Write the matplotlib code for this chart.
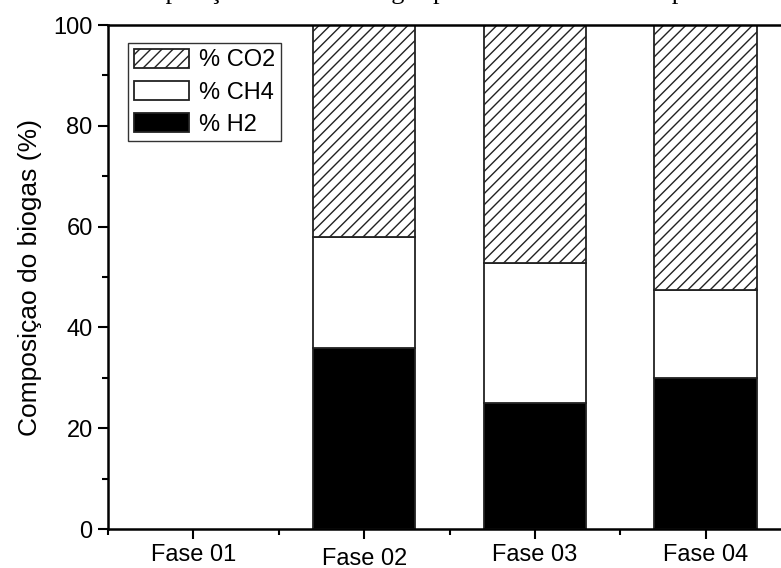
import numpy as np
import matplotlib
matplotlib.use("Agg")
import matplotlib.pyplot as plt
from matplotlib.ticker import MultipleLocator
from matplotlib.transforms import ScaledTranslation

# Biogas composition per phase (%); Fase 01 produced no gas
phases = ["Fase 01", "Fase 02", "Fase 03", "Fase 04"]
h2 = [np.nan, 35.9, 25.0, 30.0]
ch4 = [np.nan, 22.0, 27.7, 17.4]
co2 = [np.nan, 42.1, 47.3, 52.6]

plt.rcParams["font.family"] = ["Liberation Sans", "DejaVu Sans"]
plt.rcParams["hatch.linewidth"] = 1.0
plt.rcParams["hatch.color"] = "black"

fig = plt.figure(figsize=(7.81, 5.68), dpi=100)
W, H = 781, 568
left, right, top, bottom = 108, 791, 25, 529
ax = fig.add_axes([left / W, 1 - bottom / H, (right - left) / W, (bottom - top) / H])

x = np.arange(1, len(phases) + 1)
h2_a, ch4_a, co2_a = (np.array(v, dtype=float) for v in (h2, ch4, co2))
width = 0.6
edge = dict(edgecolor="#222222", linewidth=1.3)

ax.bar(x, h2_a, width, color="black", label="% H2", **edge)
ax.bar(x, ch4_a, width, bottom=h2_a, color="white", label="% CH4", **edge)
ax.bar(x, co2_a, width, bottom=h2_a + ch4_a, color="white", hatch="///",
       label="% CO2", **edge)

ax.set_xlim(0.5, 4.5)
ax.set_ylim(0, 100)
ax.set_xticks(x)
ax.set_xticklabels(phases)
ax.xaxis.set_minor_locator(MultipleLocator(1.0, offset=0.5))
ax.yaxis.set_major_locator(MultipleLocator(20))
ax.yaxis.set_minor_locator(MultipleLocator(10))

ax.tick_params(axis="both", which="major", direction="out", length=7,
               width=1.5, labelsize=17, pad=4, color="black")
ax.tick_params(axis="both", which="minor", direction="out", length=4,
               width=1.5, color="black")
ax.tick_params(axis="x", which="both", top=False)
ax.tick_params(axis="y", which="both", right=False)
for s in ax.spines.values():
    s.set_linewidth(1.8)

# second label sits a few pixels lower than its neighbours
lbl = ax.get_xticklabels()[1]
lbl.set_transform(lbl.get_transform() + ScaledTranslation(0, -4 / 100, fig.dpi_scale_trans))

ax.set_ylabel("Composiçao do biogas (%)", fontsize=19, labelpad=8)

handles, labels = ax.get_legend_handles_labels()
leg = ax.legend(handles[::-1], labels[::-1], loc="upper left",
                bbox_to_anchor=(20 / (right - left), 1 - 18 / (bottom - top)),
                borderaxespad=0, fontsize=17, fancybox=False, frameon=True,
                edgecolor="#333333", framealpha=1, borderpad=0.25,
                labelspacing=0.4, handlelength=2.35, handleheight=0.85,
                handletextpad=0.4)
leg.get_frame().set_linewidth(1.0)

# title line running off the top edge
fig.text(114 / W, 1 + 0.5 / H, "Composição média do biogás produzido em cada etapa",
         family="Liberation Serif", fontsize=19, ha="left", va="baseline")

fig.savefig("out.png", dpi=100)
